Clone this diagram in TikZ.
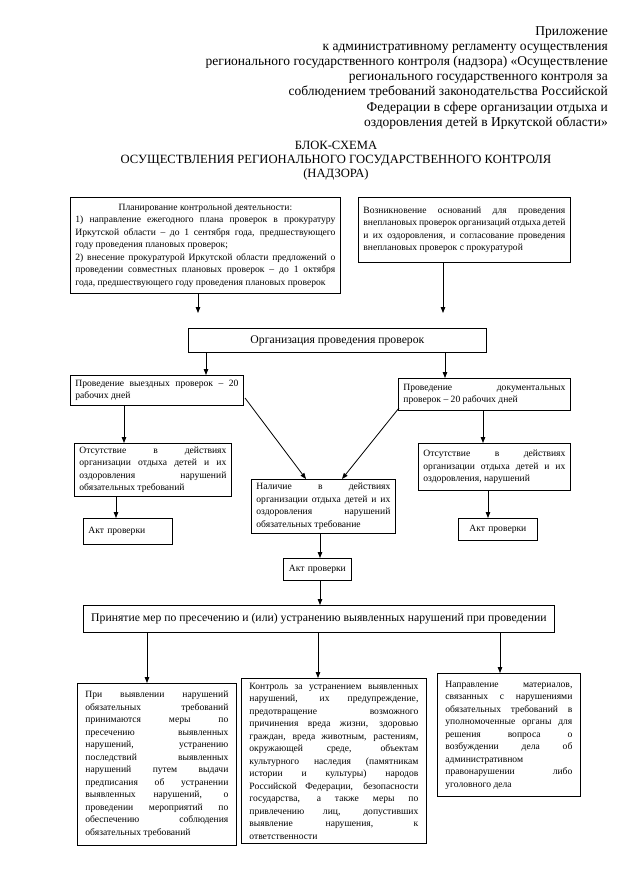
\documentclass[tikz,border=0pt]{standalone}
\usepackage{fontspec}
\setmainfont{Liberation Serif}
\usetikzlibrary{arrows.meta}
\hyphenpenalty=10000
\exhyphenpenalty=10000
\tolerance=10000
\newcommand{\lb}{\linebreak}
\begin{document}
\begin{tikzpicture}[x=1pt,y=-1pt,
  box/.style={draw,line width=0.8pt,anchor=north west,inner xsep=5pt,inner ysep=2pt,
    align=justify,font=\fontsize{9.6}{12.5}\selectfont},
  bigbox/.style={draw,line width=0.8pt,anchor=north west,inner sep=2pt,align=center,
    font=\fontsize{11.7}{13}\selectfont},
  arr/.style={line width=0.8pt,-{Triangle[length=6pt,width=4.5pt]}}]
\useasboundingbox[fill=white] (0,0) rectangle (640,878);

\node[anchor=north east,align=right,font=\fontsize{13.5}{15.2}\selectfont,inner sep=0pt] (hdr) at (608,26)
 {Приложение\\
  к административному регламенту осуществления\\
  регионального государственного контроля (надзора) «Осуществление\\
  регионального государственного контроля за\\
  соблюдением требований законодательства Российской\\
  Федерации в сфере организации отдыха и\\
  оздоровления детей в Иркутской области»};

\node[align=center,font=\fontsize{12.6}{14}\selectfont,inner sep=0pt,anchor=north] (ttl) at (336,141)
 {БЛОК-СХЕМА\\
  ОСУЩЕСТВЛЕНИЯ РЕГИОНАЛЬНОГО ГОСУДАРСТВЕННОГО КОНТРОЛЯ\\
  (НАДЗОРА)};

\node[box,minimum width=270pt,minimum height=96pt,text width=260pt] (b1) at (70,197)
 {\hfill Планирование контрольной деятельности:\hfill\null\lb
  1) направление ежегодного плана проверок в прокуратуру\lb
  Иркутской области – до 1 сентября года, предшествующего\lb
  году проведения плановых проверок;\par
  2) внесение прокуратурой Иркутской области предложений о\lb
  проведении совместных плановых проверок – до 1 октября\lb
  года, предшествующего году проведения плановых проверок};

\node[box,minimum width=212pt,minimum height=65pt,text width=202pt] (b2) at (358,197)
 {Возникновение оснований для проведения\lb
  внеплановых проверок организаций отдыха детей\lb
  и их оздоровления, и согласование проведения\lb
  внеплановых проверок с прокуратурой};

\node[bigbox,minimum width=298pt,minimum height=24pt] (org) at (188,328)
 {Организация проведения проверок};

\node[box,minimum width=173pt,minimum height=30pt,text width=163pt] (vy) at (70,375)
 {Проведение выездных проверок – 20\lb
  рабочих дней};

\node[box,minimum width=172pt,minimum height=32pt,text width=162pt] (doc) at (398,378)
 {Проведение документальных\lb
  проверок – 20 рабочих дней};

\node[box,minimum width=157pt,minimum height=53pt,text width=147pt] (otsL) at (74,443)
 {Отсутствие в действиях\lb
  организации отдыха детей и их\lb
  оздоровления нарушений\lb
  обязательных требований};

\node[box,minimum width=89pt,minimum height=26pt,align=left,text width=79pt] (aktL) at (83,518)
 {Акт проверки};

\node[box,minimum width=144pt,minimum height=54pt,text width=134pt] (nal) at (251,479)
 {Наличие в действиях\lb
  организации отдыха детей и их\lb
  оздоровления нарушений\lb
  обязательных требование};

\node[box,minimum width=152pt,minimum height=47pt,text width=142pt] (otsR) at (418,443)
 {\parfillskip=0pt Отсутствие в действиях\lb
  организации отдыха детей и их\lb
  оздоровления, нарушений};

\node[box,minimum width=79pt,minimum height=22pt,align=center,text width=69pt] (aktR) at (458,518)
 {Акт проверки};

\node[box,minimum width=68pt,minimum height=22pt,align=center,text width=58pt] (aktC) at (283,558)
 {Акт проверки};

\node[bigbox,minimum width=471pt,minimum height=27pt] (mery) at (83,605)
 {Принятие мер по пресечению и (или) устранению выявленных нарушений при проведении};

\node[box,minimum width=159pt,minimum height=162pt,text width=143pt,inner xsep=8pt] (bl) at (77,683)
 {При выявлении нарушений\lb
  обязательных требований\lb
  принимаются меры по\lb
  пресечению выявленных\lb
  нарушений, устранению\lb
  последствий выявленных\lb
  нарушений путем выдачи\lb
  предписания об устранении\lb
  выявленных нарушений, о\lb
  проведении мероприятий по\lb
  обеспечению соблюдения\lb
  обязательных требований};

\node[box,minimum width=185pt,minimum height=165pt,text width=169pt,inner xsep=8pt] (bm) at (241,678)
 {Контроль за устранением выявленных\lb
  нарушений, их предупреждение,\lb
  предотвращение возможного\lb
  причинения вреда жизни, здоровью\lb
  граждан, вреда животным, растениям,\lb
  окружающей среде, объектам\lb
  культурного наследия (памятникам\lb
  истории и культуры) народов\lb
  Российской Федерации, безопасности\lb
  государства, а также меры по\lb
  привлечению лиц, допустивших\lb
  выявление нарушения, к\lb
  ответственности};

\node[box,minimum width=143pt,minimum height=123pt,text width=127pt,inner xsep=8pt] (br) at (437,673)
 {Направление материалов,\lb
  связанных с нарушениями\lb
  обязательных требований в\lb
  уполномоченные органы для\lb
  решения вопроса о\lb
  возбуждении дела об\lb
  административном\lb
  правонарушении либо\lb
  уголовного дела};

% connectors
\coordinate (e1) at (198,313);
\coordinate (e2) at (443,313);
\draw[arr] (b1.south -| e1) -- (e1);
\draw[arr] (b2.south -| e2) -- (e2);
\coordinate (x1) at (206,0);
\coordinate (x2) at (445,0);
\draw[arr] (org.south -| x1) -- (vy.north -| x1);
\draw[arr] (org.south -| x2) -- (doc.north -| x2);
\coordinate (x3) at (124,0);
\draw[arr] (vy.south -| x3) -- (otsL.north -| x3);
\coordinate (x4) at (116,0);
\draw[arr] (otsL.south -| x4) -- (aktL.north -| x4);
\coordinate (d1) at (245,398);
\coordinate (t1) at (306,0);
\draw[arr] (d1) -- (nal.north -| t1);
\coordinate (d2) at (399,408);
\coordinate (t2) at (342,0);
\draw[arr] (d2) -- (nal.north -| t2);
\coordinate (x5) at (483,0);
\draw[arr] (doc.south -| x5) -- (otsR.north -| x5);
\coordinate (x6) at (488,0);
\draw[arr] (otsR.south -| x6) -- (aktR.north -| x6);
\coordinate (x7) at (320,0);
\draw[arr] (nal.south -| x7) -- (aktC.north -| x7);
\draw[arr] (aktC.south -| x7) -- (mery.north -| x7);
\coordinate (x8) at (147,0);
\coordinate (x9) at (318,0);
\coordinate (x10) at (500,0);
\draw[arr] (mery.south -| x8) -- (bl.north -| x8);
\draw[arr] (mery.south -| x9) -- (bm.north -| x9);
\draw[arr] (mery.south -| x10) -- (br.north -| x10);
\end{tikzpicture}
\end{document}
